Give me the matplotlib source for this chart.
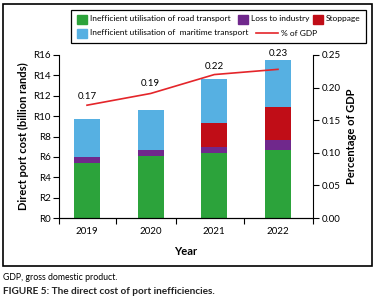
import matplotlib
matplotlib.use("Agg")
import matplotlib.pyplot as plt
from matplotlib.patches import Rectangle
from matplotlib.lines import Line2D
from matplotlib.ticker import FuncFormatter

plt.rcParams['font.family'] = ['Lato', 'DejaVu Sans']

years = ['2019', '2020', '2021', '2022']
road = [5.43, 6.08, 6.38, 6.67]
loss = [0.55, 0.59, 0.59, 0.98]
stoppage = [0.0, 0.0, 2.35, 3.24]
maritime = [3.74, 3.93, 4.32, 4.61]
gdp_pct = [0.173, 0.191, 0.220, 0.228]

c_green = '#2ca33b'
c_purple = '#70288c'
c_red = '#c00d17'
c_blue = '#56b0e2'
c_line = '#e4252a'

W, H = 377, 299
fig = plt.figure(figsize=(W/100, H/100), dpi=100)

def fx(px):
    return px / W

def fy(py):
    return 1 - py / H

# outer frame
fig.patches.append(Rectangle((fx(3), fy(266)), (372-3)/W, (266-4)/H,
                             transform=fig.transFigure, fill=False,
                             edgecolor='black', linewidth=1.2))

ax = fig.add_axes([fx(59), fy(218), (313-59)/W, (218-55)/H])
x = list(range(len(years)))
bw = 0.41
ax.bar(x, road, bw, color=c_green, zorder=2)
b2 = list(road)
ax.bar(x, loss, bw, bottom=b2, color=c_purple, zorder=2)
b3 = [a + b for a, b in zip(road, loss)]
ax.bar(x, stoppage, bw, bottom=b3, color=c_red, zorder=2)
b4 = [a + b for a, b in zip(b3, stoppage)]
ax.bar(x, maritime, bw, bottom=b4, color=c_blue, zorder=2)

ax.set_ylim(0, 16)
ax.set_xlim(-0.44, 3.55)
ax.set_yticks(range(0, 17, 2))
ax.set_yticklabels([f'R{v}' for v in range(0, 17, 2)])
ax.set_xticks([-0.44, 0.455, 1.40, 2.46, 3.55])
ax.set_xticklabels([])
ax.tick_params(axis='x', direction='out', length=4, width=0.8)
ax.tick_params(axis='y', direction='out', length=4, width=0.8, labelsize=7, pad=2)
for t, lab in zip(x, years):
    ax.text(t, -1.3, lab, ha='center', va='center', fontsize=7)
ax.spines['top'].set_visible(False)
ax.spines['right'].set_visible(False)
ax.set_ylabel('Direct port cost (billion rands)', fontsize=8, fontweight='bold', labelpad=3)
ax.text(1.55, -3.3, 'Year', ha='center', va='center', fontsize=8, fontweight='bold')

ax2 = ax.twinx()
ax2.plot(x, gdp_pct, color=c_line, linewidth=1.2, zorder=3)
ax2.set_ylim(0, 0.25)
ax2.set_yticks([0, 0.05, 0.10, 0.15, 0.20, 0.25])
ax2.yaxis.set_major_formatter(FuncFormatter(lambda v, p: f'{v:.2f}'))
ax2.tick_params(axis='y', direction='out', length=4, width=0.8, labelsize=7, pad=2)
ax2.spines['top'].set_visible(False)
ax2.spines['left'].set_visible(False)
ax2.set_ylabel('Percentage of GDP', fontsize=8, fontweight='bold', labelpad=4)
label_offsets = [0.013, 0.016, 0.013, 0.025]
for t, v, off in zip(x, gdp_pct, label_offsets):
    ax2.text(t, v + off, f'{v:.2f}', ha='center', va='center', fontsize=7)

# manual legend (flow layout)
fig.patches.append(Rectangle((fx(71), fy(43)), (366-71)/W, (43-10)/H,
                             transform=fig.transFigure, fill=False,
                             edgecolor='black', linewidth=0.9))
leg_items = [
    ('patch', c_green, 'Inefficient utilisation of road transport', 77, 19),
    ('patch', c_purple, 'Loss to industry', 238, 19),
    ('patch', c_red, 'Stoppage', 313, 19),
    ('patch', c_blue, 'Inefficient utilisation of  maritime transport', 77, 33),
    ('line', c_line, '% of GDP', 256, 33),
]
for kind, col, lab, px, py in leg_items:
    if kind == 'patch':
        fig.patches.append(Rectangle((fx(px), fy(py + 4.5)), 10/W, 9/H,
                                     transform=fig.transFigure, color=col))
        tx = px + 13
    else:
        fig.lines.append(Line2D([fx(px), fx(px + 22)], [fy(py), fy(py)],
                                transform=fig.transFigure, color=col, linewidth=1.2))
        tx = px + 25
    fig.text(fx(tx), fy(py), lab, fontsize=6, va='center', ha='left')

fig.text(fx(3), fy(277), 'GDP, gross domestic product.', fontsize=6.3, va='center')
fig.text(fx(3), fy(292), 'FIGURE 5: The direct cost of port inefficiencies.',
         fontsize=7.2, va='center', color='#222222', fontweight='bold')

fig.savefig('out.png', dpi=100)
